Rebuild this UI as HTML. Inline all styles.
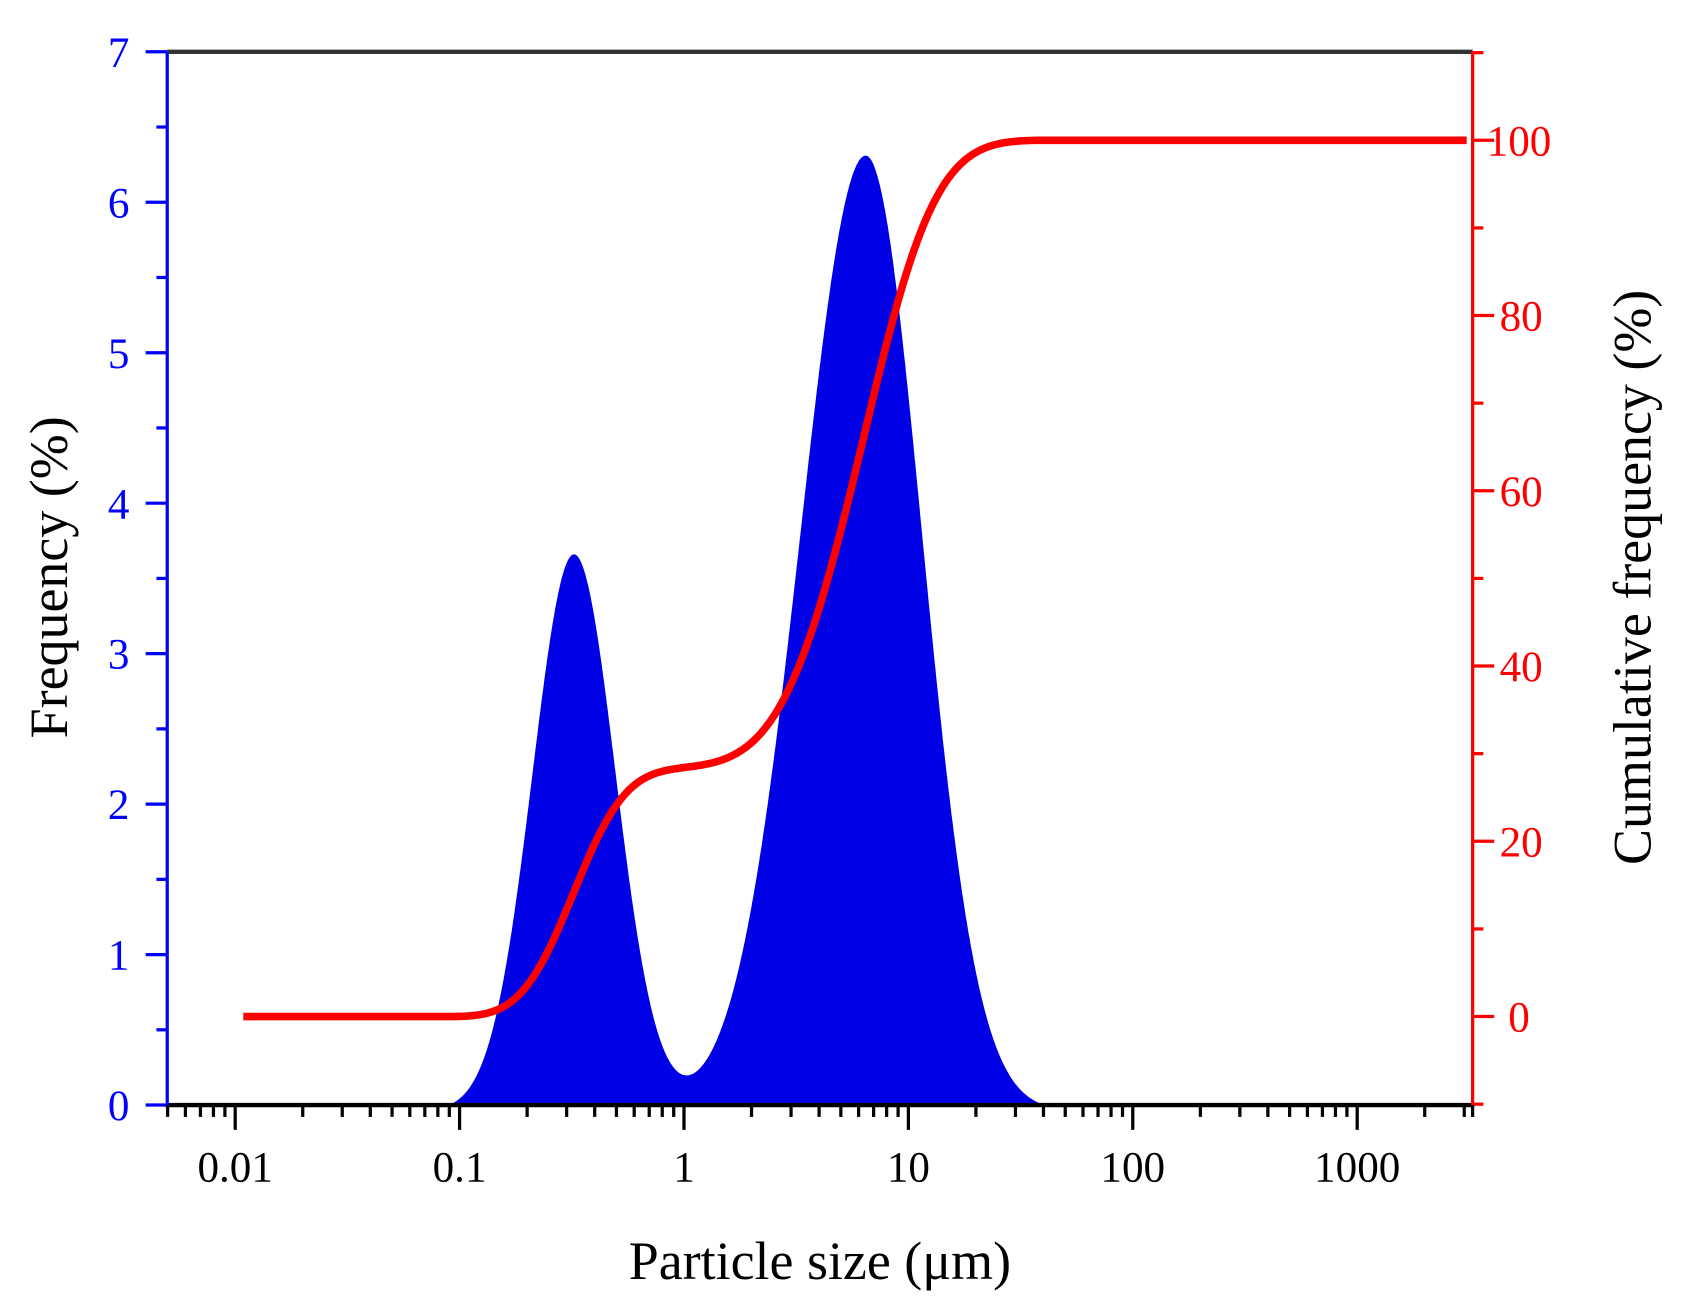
<!DOCTYPE html>
<html><head><meta charset="utf-8"><style>html,body{margin:0;padding:0;background:#fff}svg{display:block}</style></head>
<body>
<svg id="s" width="1683" height="1309" viewBox="0 0 1560 1213" preserveAspectRatio="none" xmlns="http://www.w3.org/2000/svg" font-family="Liberation Serif, serif">
<rect width="1560" height="1213" fill="#fff"/>
<g id="g"></g>
<text x="760" y="1185" font-size="50" text-anchor="middle" fill="#000">Particle size (μm)</text>
<text transform="translate(62,535) rotate(-90)" font-size="50" text-anchor="middle" fill="#000">Frequency (%)</text>
<text transform="translate(1530,535) rotate(-90)" font-size="50" text-anchor="middle" fill="#000">Cumulative frequency (%)</text>
</svg>
<script>
var L=155,R=1365,T=48,B=1024,X0=218,DEC=208;
function px(l){return X0+(l+2)*DEC;}
function yl(v){return B-v*139.43;}
function yr(v){return 942-v*8.12;}
var s='';
function f(l){var a=3.7*Math.exp(-Math.pow((l+0.49)/0.185,2)/2);var sg=l<0.81?0.29:0.25;var b=6.35*Math.exp(-Math.pow((l-0.81)/sg,2)/2);var v=a+b-0.04;return v<0?0:v;}
var cum=[],tot=0,ls=[];
for(var l=-2.1;l<=3.5;l+=0.004){ls.push(l);}
for(var i=0;i<ls.length;i++){tot+=f(ls[i]);cum.push(tot);}
var d='M'+px(-1.3)+','+B;
for(var i=0;i<ls.length;i++){var l=ls[i];if(l<-1.3||l>1.8)continue;d+=' L'+px(l).toFixed(1)+','+yl(f(l)).toFixed(1);}
d+=' L'+px(1.8)+','+B+' Z';
s+='<path d="'+d+'" fill="#0000e6"/>';
var c='';
for(var i=0;i<ls.length;i++){var l=ls[i];var x=px(l);if(x<225||x>1360)continue;var v=cum[i]/tot*100;c+=(c?' L':'M')+x.toFixed(1)+','+yr(v).toFixed(1);}
s+='<path d="'+c+'" fill="none" stroke="#ff0000" stroke-width="7" stroke-linejoin="round"/>';
s+='<line x1="'+L+'" y1="'+T+'" x2="'+R+'" y2="'+T+'" stroke="#333" stroke-width="4"/>';
s+='<line x1="'+L+'" y1="'+B+'" x2="'+R+'" y2="'+B+'" stroke="#000" stroke-width="4"/>';
s+='<line x1="'+L+'" y1="'+T+'" x2="'+L+'" y2="'+(B+2)+'" stroke="#0000ff" stroke-width="3"/>';
s+='<line x1="'+R+'" y1="'+T+'" x2="'+R+'" y2="'+(B+2)+'" stroke="#ff0000" stroke-width="3"/>';
for(var v=0;v<=7;v+=0.5){var y=yl(v);var maj=(v%1==0);s+='<line x1="'+(L-(maj?20:10))+'" y1="'+y+'" x2="'+L+'" y2="'+y+'" stroke="#0000ff" stroke-width="3"/>';if(maj)s+='<text x="120" y="'+(y+14)+'" font-size="40" fill="#0000ff" text-anchor="end">'+v+'</text>';}
for(var v=-10;v<=110;v+=10){var y=yr(v);var maj=(v%20==0&&v>=0&&v<=100);s+='<line x1="'+R+'" y1="'+y+'" x2="'+(R+(maj?20:10))+'" y2="'+y+'" stroke="#ff0000" stroke-width="3"/>';if(maj)s+='<text x="'+(v==100?1378:(v==0?1398:1390))+'" y="'+(y+14)+'" font-size="40" fill="#ff0000">'+v+'</text>';}
var labs=['0.01','0.1','1','10','100','1000'];
for(var e=-3;e<=3;e++){for(var m=1;m<10;m++){var l=e+Math.log10(m);var x=px(l);if(x<L-1||x>R+1)continue;var maj=(m==1);s+='<line x1="'+x+'" y1="'+B+'" x2="'+x+'" y2="'+(B+(maj?23:11))+'" stroke="#000" stroke-width="3"/>';if(maj&&e>=-2)s+='<text x="'+x+'" y="1095" font-size="40" text-anchor="middle" fill="#000">'+labs[e+2]+'</text>';}}
s+='<line x1="'+R+'" y1="'+B+'" x2="'+R+'" y2="'+(B+11)+'" stroke="#000" stroke-width="3"/>';
document.getElementById('g').innerHTML=s;
</script>
</body></html>
